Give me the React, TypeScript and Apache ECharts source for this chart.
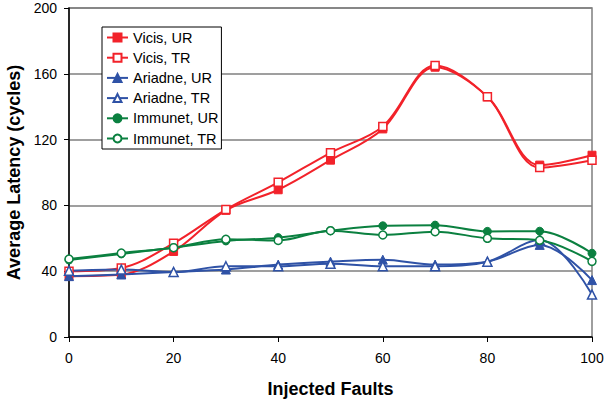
import React, { useEffect, useRef } from "react";
import * as echarts from "echarts";

const faults = [0, 10, 20, 30, 40, 50, 60, 70, 80, 90, 100];
const vicisUR = [37, 38, 52, 77, 89.5, 107.5, 126.5, 164, 146, 104.5, 110.5];
const vicisTR = [40, 42, 57, 77.5, 94, 112, 128, 165, 146, 103, 107.5];
const ariadneUR = [37, 38, 39.5, 41, 44, 45.8, 47, 44, 45.8, 56, 34.6];
const ariadneTR = [40.3, 41, 39.5, 43, 43, 44.6, 43, 43, 45.8, 59, 25.8];
const immunetUR = [46.8, 50.5, 54.3, 58.4, 60.4, 64.6, 67.6, 68, 64.2, 64.3, 50.9];
const immunetTR = [47.4, 51, 54.3, 59.4, 58.7, 64.6, 62, 64, 60, 58.8, 46];

const RED = "#f2222a";
const BLUE = "#2f52a6";
const GREEN = "#0b8040";
const FONT = "'Liberation Sans', Arial, sans-serif";

const pairs = (ys: number[]) => faults.map((x, i) => [x, ys[i]]);

function mk(name: string, ys: number[], color: string, symbol: string, filled: boolean, size: number) {
  return {
    name,
    type: "line",
    data: pairs(ys),
    smooth: 0.35,
    symbol,
    symbolSize: size,
    showSymbol: true,
    lineStyle: { color, width: 2 },
    itemStyle: filled
      ? { color, borderColor: color, borderWidth: 1 }
      : { color: "#ffffff", borderColor: color, borderWidth: 1.5 },
    emphasis: { disabled: true },
  };
}

export default function App() {
  const ref = useRef<HTMLDivElement>(null);
  useEffect(() => {
    if (!ref.current) return;
    const chart = echarts.init(ref.current, undefined, { renderer: "svg" });
    chart.setOption({
      animation: false,
      backgroundColor: "#ffffff",
      textStyle: { fontFamily: FONT },
      grid: {
        left: 69,
        right: 12,
        top: 8,
        bottom: 65,
        outerBoundsMode: "none",
        containLabel: false,
        show: true,
        borderColor: "#7f7f7f",
        borderWidth: 1.5,
        backgroundColor: "transparent",
      },
      legend: {
        orient: "vertical",
        left: 102,
        top: 27,
        padding: [3, 3, 3, 4],
        itemWidth: 21,
        itemHeight: 10,
        itemGap: 5.2,
        backgroundColor: "#ffffff",
        borderColor: "#000000",
        borderWidth: 1,
        textStyle: { fontSize: 14.5, color: "#000", fontFamily: FONT },
        data: ["Vicis, UR", "Vicis, TR", "Ariadne, UR", "Ariadne, TR", "Immunet, UR", "Immunet, TR"],
      },
      xAxis: {
        type: "value",
        min: 0,
        max: 100,
        interval: 20,
        name: "Injected Faults",
        nameLocation: "middle",
        nameGap: 43,
        nameTextStyle: { fontSize: 18, fontWeight: "bold", color: "#000", fontFamily: FONT },
        axisLine: { show: true, lineStyle: { color: "#000", width: 1.5 } },
        axisTick: { show: true, length: 5, inside: false, lineStyle: { color: "#000", width: 1 } },
        axisLabel: { fontSize: 14, color: "#000", margin: 14, fontFamily: FONT },
        splitLine: { show: false },
      },
      yAxis: {
        type: "value",
        min: 0,
        max: 200,
        interval: 40,
        name: "Average Latency (cycles)",
        nameLocation: "middle",
        nameGap: 44,
        nameTextStyle: { fontSize: 18, fontWeight: "bold", color: "#000", fontFamily: FONT },
        axisLine: { show: true, lineStyle: { color: "#000", width: 1.5 } },
        axisTick: { show: true, length: 5, inside: false, lineStyle: { color: "#000", width: 1 } },
        axisLabel: { fontSize: 14, color: "#000", margin: 12, fontFamily: FONT },
        splitLine: { show: true, lineStyle: { color: "#7f7f7f", width: 1.5 } },
      },
      series: [
        mk("Vicis, UR", vicisUR, RED, "rect", true, 8),
        mk("Vicis, TR", vicisTR, RED, "rect", false, 8),
        mk("Ariadne, UR", ariadneUR, BLUE, "triangle", true, 9),
        mk("Ariadne, TR", ariadneTR, BLUE, "triangle", false, 9),
        mk("Immunet, UR", immunetUR, GREEN, "circle", true, 8),
        mk("Immunet, TR", immunetTR, GREEN, "circle", false, 8),
      ],
    });
    return () => chart.dispose();
  }, []);
  return (
    <div
      ref={ref}
      style={{ position: "absolute", left: 0, top: 0, width: 604, height: 402 }}
    />
  );
}
